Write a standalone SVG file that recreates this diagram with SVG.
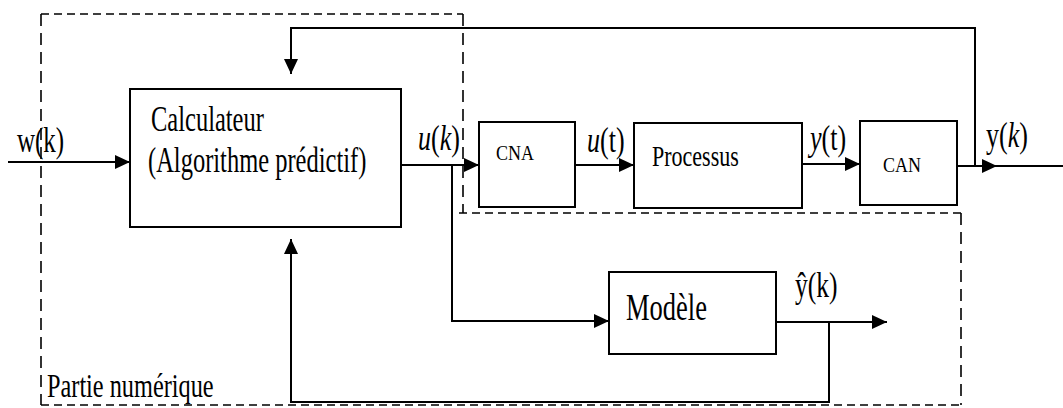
<svg xmlns="http://www.w3.org/2000/svg" width="1063" height="408" viewBox="0 0 1063 408">
<defs>
<marker id="ah" markerWidth="15" markerHeight="14" refX="15" refY="7" orient="auto" markerUnits="userSpaceOnUse"><path d="M0,0 L15,7 L0,14 z" fill="#000"/></marker>
<style>
.box{fill:#fff;stroke:#000;stroke-width:2}
.ln{fill:none;stroke:#000;stroke-width:2}
.dh{fill:none;stroke:#000;stroke-width:1.6;stroke-dasharray:8 5}
.dv{fill:none;stroke:#000;stroke-width:1.6;stroke-dasharray:12 7}
text{font-family:"Liberation Serif","Times New Roman",serif;fill:#000}
.it{font-style:italic}
</style>
</defs>
<rect width="1063" height="408" fill="#fff"/>
<g id="region">
<line class="dh" x1="41" y1="14" x2="463" y2="14"/>
<line class="dv" x1="41" y1="14" x2="41" y2="405"/>
<line class="dv" x1="463" y1="14" x2="463" y2="213"/>
<line class="dh" x1="459" y1="213" x2="962" y2="213"/>
<line class="dv" x1="961" y1="213" x2="961" y2="405"/>
<line class="dh" x1="41" y1="405" x2="962" y2="405"/>
<text transform="translate(47,397) scale(1,1.42)" font-size="24.3">Partie numérique</text>
</g>
<g id="connectors">
<path class="ln" d="M8,162 H130" marker-end="url(#ah)"/>
<path class="ln" d="M975,166 V28 H291 V74" marker-end="url(#ah)"/>
<path class="ln" d="M401,165 H479" marker-end="url(#ah)"/>
<path class="ln" d="M452,165 V321 H609" marker-end="url(#ah)"/>
<path class="ln" d="M575,165 H634" marker-end="url(#ah)"/>
<path class="ln" d="M802,164 H860" marker-end="url(#ah)"/>
<path class="ln" d="M957,166 H997" marker-end="url(#ah)"/>
<path class="ln" d="M990,166 H1063"/>
<path class="ln" d="M776,322 H887" marker-end="url(#ah)"/>
<path class="ln" d="M829,322 V402 H291 V239" marker-end="url(#ah)"/>
<text transform="translate(17,152) scale(1,1.4)" font-size="25">w(k)</text>
<text transform="translate(418,150) scale(1,1.4)" font-size="26"><tspan class="it">u</tspan>(<tspan class="it">k</tspan>)</text>
<text transform="translate(587,152) scale(1,1.4)" font-size="26"><tspan class="it">u</tspan>(t)</text>
<text transform="translate(810,150) scale(1,1.4)" font-size="26"><tspan class="it">y</tspan>(t)</text>
<text transform="translate(986,147) scale(1,1.4)" font-size="26">y(<tspan class="it">k</tspan>)</text>
<text transform="translate(795,297) scale(1,1.4)" font-size="25.5">ŷ(k)</text>
</g>
<g id="calculateur">
<rect class="box" x="130" y="89" width="271" height="138"/>
<text transform="translate(151,131) scale(1,1.42)" font-size="24.5">Calculateur</text>
<text transform="translate(148,172) scale(1,1.42)" font-size="24.5">(Algorithme prédictif)</text>
</g>
<g id="cna">
<rect class="box" x="479" y="122" width="96" height="85"/>
<text transform="translate(496,160) scale(1,1.2)" font-size="18">CNA</text>
</g>
<g id="processus">
<rect class="box" x="634" y="123" width="168" height="85"/>
<text transform="translate(652,166) scale(1,1.37)" font-size="22">Processus</text>
</g>
<g id="can">
<rect class="box" x="860" y="121" width="97" height="84"/>
<text transform="translate(883,172) scale(1,1.2)" font-size="18">CAN</text>
</g>
<g id="modele">
<rect class="box" x="609" y="272" width="167" height="82"/>
<text transform="translate(626,320) scale(1,1.4)" font-size="26.5">Modèle</text>
</g>
</svg>
